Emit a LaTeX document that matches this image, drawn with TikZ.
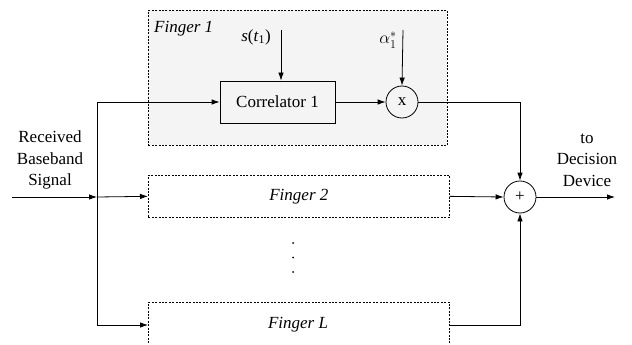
\documentclass[tikz,border=0pt]{standalone}
\usepackage{fontspec}
\setmainfont{Liberation Serif}
\usetikzlibrary{arrows.meta}
\definecolor{fingerfill}{HTML}{F4F4F4}
\tikzset{
  sig/.style={line width=0.8pt, -{Latex[length=8pt,width=5.5pt]}},
  wire/.style={line width=0.8pt},
  finger/.style={draw, line width=0.7pt, dash pattern=on 2pt off 1.4pt, inner sep=0pt},
  blockbox/.style={draw, line width=0.8pt, minimum width=115pt, minimum height=42pt, inner sep=0pt},
  op/.style={draw, circle, line width=0.8pt, minimum size=32pt, inner sep=0pt},
  lbl/.style={align=center, inner sep=0pt}
}
\begin{document}
\begin{tikzpicture}[x=1pt, y=-1pt, font=\fontsize{17}{21.5}\selectfont]
\useasboundingbox (0,0) rectangle (632,345);
\clip (0,0) rectangle (632,345);

% finger boxes
\node[finger, fill=fingerfill, minimum width=299pt, minimum height=135pt, anchor=north west] (f1) at (148,10) {};
\node[anchor=west, inner sep=0pt] (f1lbl) at (154,29) {\textit{Finger 1}};
\node[finger, minimum width=301pt, minimum height=42pt, anchor=north west] (f2) at (148,175) {\textit{Finger 2}};
\node[finger, minimum width=301pt, minimum height=46pt, anchor=north west] (fL) at (148,302) {};
\node[inner sep=0pt] (fLlbl) at (298,325) {\textit{Finger L}};

% correlator and multiplier inside finger 1
\node[blockbox] (corr) at (277.5,102) {Correlator 1};
\node[op] (mul) at (402,102) {x};
\coordinate (stop) at (281,30);
\node[lbl] (slbl) at (256,37) {\textit{s}(\textit{t}\textsubscript{1})};
\coordinate (atop) at (403,30);
\node[lbl] (albl) at (388,40) {$\alpha_1^*$};
\draw[sig] (stop) -- (corr.north -| stop);
\draw[sig] (atop) -- (mul.north);
\draw[sig] (corr) -- (mul);

% input and distribution
\coordinate (in) at (12,197);
\coordinate (split) at (97,197);
\coordinate (splittop) at (97,102);
\coordinate (splitbot) at (97,325);
\node[lbl] (rx) at (50,160) {Received\\Baseband\\Signal};
\draw[sig] (in) -- (split);
\draw[wire] (splittop) -- (splitbot);
\draw[sig] (splittop) -- (corr.west);
\draw[sig] (split) -- (f2.west);
\draw[sig] (splitbot) -- (fL.west |- splitbot);

% dots between fingers
\foreach \yy in {243,257.5,272} \fill (293,\yy) circle (1pt);

% combiner
\node[op] (sum) at (520,197) {+};
\draw[sig] (mul.east) -| (sum.north);
\draw[sig] (f2.east) -- (sum.west);
\draw[sig] (fL.east |- splitbot) -| (sum.south);
\coordinate (out) at (615,197);
\draw[sig] (sum.east) -- (out);
\node[lbl] (dec) at (587,160) {to\\Decision\\Device};
\end{tikzpicture}
\end{document}
